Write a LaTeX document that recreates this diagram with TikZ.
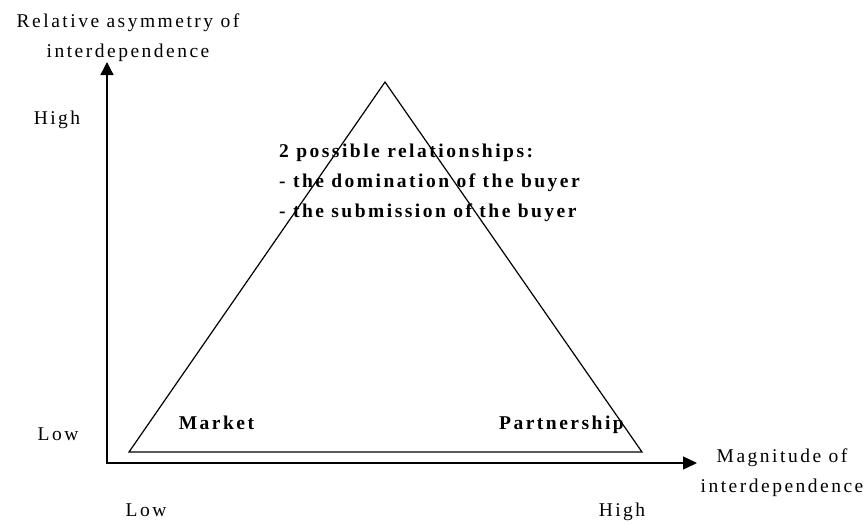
\documentclass[tikz,border=0pt]{standalone}
\usepackage{fontspec}
\setmainfont[LetterSpace=12.8]{Liberation Serif}
\usetikzlibrary{arrows.meta}
\tikzset{
  lbl/.style={inner sep=0pt,font=\fontsize{19.5}{30}\selectfont},
  bld/.style={inner sep=0pt,font=\fontsize{19.5}{30}\selectfont\bfseries},
  axis/.style={line width=1.4pt,{Triangle[length=13pt,width=13pt]}-{Triangle[length=14pt,width=13pt]}},
}
\begin{document}
\begin{tikzpicture}[x=1pt,y=-1pt]
\useasboundingbox (0,0) rectangle (868,523);

% axes
\coordinate (O) at (107,463);
\coordinate (ytop) at (107,62);
\coordinate (xend) at (697,463);
\draw[axis] (ytop) -- (O) -- (xend);

% triangle
\coordinate (apex) at (385,82);
\coordinate (bl) at (129,452);
\coordinate (br) at (642,452);
\draw[line width=1.2pt] (bl) -- (apex) -- (br) -- cycle;

% axis labels
\node[lbl,anchor=north,align=center] (ylab) at (128,13.4) {Relative asymmetry of\\interdependence};
\node[lbl,anchor=north,align=center] (xlab) at (782,448.4) {Magnitude of\\interdependence};

\node[lbl,anchor=base] (yhigh) at (57,124.5) {High};
\node[lbl,anchor=base] (ylow) at (58,440) {Low};
\node[lbl,anchor=base] (xlow) at (146,516.5) {Low};
\node[lbl,anchor=base] (xhigh) at (622,516.5) {High};

% inside the triangle
\node[bld,anchor=base] (market) at (216.5,429) {Market};
\node[bld,anchor=base] (partner) at (561.5,429) {Partnership};
\node[bld,anchor=north west,align=left] (rel) at (279,143.4) {2 possible relationships:\\- the domination of the buyer\\- the submission of the buyer};

\end{tikzpicture}
\end{document}
